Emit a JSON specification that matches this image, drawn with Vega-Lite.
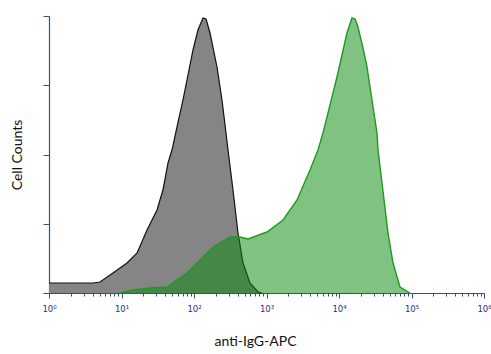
{
  "$schema": "https://vega.github.io/schema/vega-lite/v6.json",
  "width": 435,
  "height": 277,
  "autosize": {"type": "none"},
  "padding": {"left": 49, "top": 16, "right": 7, "bottom": 61},
  "background": "white",
  "config": {"view": {"stroke": null}, "axis": {"grid": false}},
  "datasets": {
    "gray": [
      {"intensity": 1, "count": 3.61},
      {"intensity": 4.05, "count": 3.61},
      {"intensity": 5.05, "count": 3.97},
      {"intensity": 7.63, "count": 7.22},
      {"intensity": 11.9, "count": 10.83},
      {"intensity": 16.4, "count": 14.44},
      {"intensity": 22.5, "count": 22.74},
      {"intensity": 30.9, "count": 29.96},
      {"intensity": 37.3, "count": 37.18},
      {"intensity": 43.8, "count": 46.93},
      {"intensity": 49.7, "count": 51.62},
      {"intensity": 58.3, "count": 59.93},
      {"intensity": 70.5, "count": 69.68},
      {"intensity": 82.6, "count": 78.7},
      {"intensity": 96.9, "count": 87.73},
      {"intensity": 113.5, "count": 94.95},
      {"intensity": 133, "count": 99.28},
      {"intensity": 146.5, "count": 98.92},
      {"intensity": 166.3, "count": 93.86},
      {"intensity": 207.6, "count": 81.59},
      {"intensity": 243.3, "count": 69.68},
      {"intensity": 276.3, "count": 57.76},
      {"intensity": 294.4, "count": 51.62},
      {"intensity": 345.1, "count": 37.18},
      {"intensity": 404.4, "count": 21.66},
      {"intensity": 474.2, "count": 10.83},
      {"intensity": 591.6, "count": 3.61},
      {"intensity": 763.8, "count": 0.36},
      {"intensity": 867, "count": 0}
    ],
    "green": [
      {"intensity": 9.53, "count": 0},
      {"intensity": 14.4, "count": 1.08},
      {"intensity": 24.7, "count": 1.81},
      {"intensity": 42.4, "count": 2.17},
      {"intensity": 80.0, "count": 7.22},
      {"intensity": 121, "count": 11.91},
      {"intensity": 182.8, "count": 16.61},
      {"intensity": 314, "count": 20.22},
      {"intensity": 430.5, "count": 20.22},
      {"intensity": 555.9, "count": 19.49},
      {"intensity": 1016, "count": 22.02},
      {"intensity": 1690, "count": 26.35},
      {"intensity": 2636, "count": 33.57},
      {"intensity": 3981, "count": 44.4},
      {"intensity": 5129, "count": 51.62},
      {"intensity": 6012, "count": 57.76},
      {"intensity": 7516, "count": 67.87},
      {"intensity": 9376, "count": 77.98},
      {"intensity": 10990, "count": 85.92},
      {"intensity": 12880, "count": 93.86},
      {"intensity": 15100, "count": 99.28},
      {"intensity": 16630, "count": 98.92},
      {"intensity": 18280, "count": 96.03},
      {"intensity": 21430, "count": 88.45},
      {"intensity": 24330, "count": 81.59},
      {"intensity": 28510, "count": 69.68},
      {"intensity": 33420, "count": 57.76},
      {"intensity": 34510, "count": 51.62},
      {"intensity": 39170, "count": 39.71},
      {"intensity": 47420, "count": 21.66},
      {"intensity": 55590, "count": 10.83},
      {"intensity": 69340, "count": 2.17},
      {"intensity": 95280, "count": 0}
    ]
  },
  "layer": [
    {
      "data": {"name": "gray"},
      "mark": {"type": "area", "color": "#858585", "fillOpacity": 1, "opacity": 1, "interpolate": "linear", "line": {"color": "#111111", "strokeWidth": 1.2}},
      "encoding": {
        "x": {
          "field": "intensity", "type": "quantitative",
          "scale": {"type": "log", "domain": [1, 1000000], "nice": false},
          "axis": {
            "title": "anti-IgG-APC",
            "values": [1,2,3,4,5,6,7,8,9,10,20,30,40,50,60,70,80,90,100,200,300,400,500,600,700,800,900,1000,2000,3000,4000,5000,6000,7000,8000,9000,10000,20000,30000,40000,50000,60000,70000,80000,90000,100000,200000,300000,400000,500000,600000,700000,800000,900000,1000000],
            "labelExpr": "indexof([1,10,100,1000,10000,100000,1000000], datum.value) >= 0 ? '10' + ['⁰','¹','²','³','⁴','⁵','⁶'][indexof([1,10,100,1000,10000,100000,1000000], datum.value)] : ''",
            "labelOverlap": false,
            "labelBound": false,
            "labelFlush": false,
            "domainColor": "#2f4f8f",
            "domainWidth": 1.2,
            "tickColor": "#2f4f8f",
            "tickSize": {"condition": {"test": "indexof([1,10,100,1000,10000,100000,1000000], datum.value) >= 0", "value": 5}, "value": 3},
            "labelColor": "#2c2c8c",
            "labelFont": "DejaVu Sans",
            "labelFontSize": 8.5,
            "labelPadding": 6,
            "titleFont": "Lato",
            "titleFontSize": 14,
            "titleFontWeight": "normal",
            "titleColor": "#111111",
            "titlePadding": 22,
            "titleX": 206
          }
        },
        "y": {
          "field": "count", "type": "quantitative",
          "scale": {"domain": [0, 100], "nice": false},
          "axis": {
            "title": "Cell Counts",
            "values": [0,6.25,12.5,18.75,25,31.25,37.5,43.75,50,56.25,62.5,68.75,75,81.25,87.5,93.75,100],
            "labels": false,
            "domainColor": "#2f4f8f",
            "domainWidth": 1.2,
            "tickColor": "#2f4f8f",
            "tickSize": {"condition": {"test": "datum.value % 25 == 0", "value": 6}, "value": 3},
            "titleFont": "Lato",
            "titleFontSize": 14,
            "titleFontWeight": "normal",
            "titleColor": "#111111",
            "titlePadding": 18
          }
        }
      }
    },
    {
      "data": {"name": "green"},
      "mark": {"type": "area", "color": "#0a8a10", "fillOpacity": 0.52, "interpolate": "linear", "line": {"color": "#1f9a1f", "strokeWidth": 1.4}},
      "encoding": {
        "x": {"field": "intensity", "type": "quantitative"},
        "y": {"field": "count", "type": "quantitative"}
      }
    }
  ]
}
